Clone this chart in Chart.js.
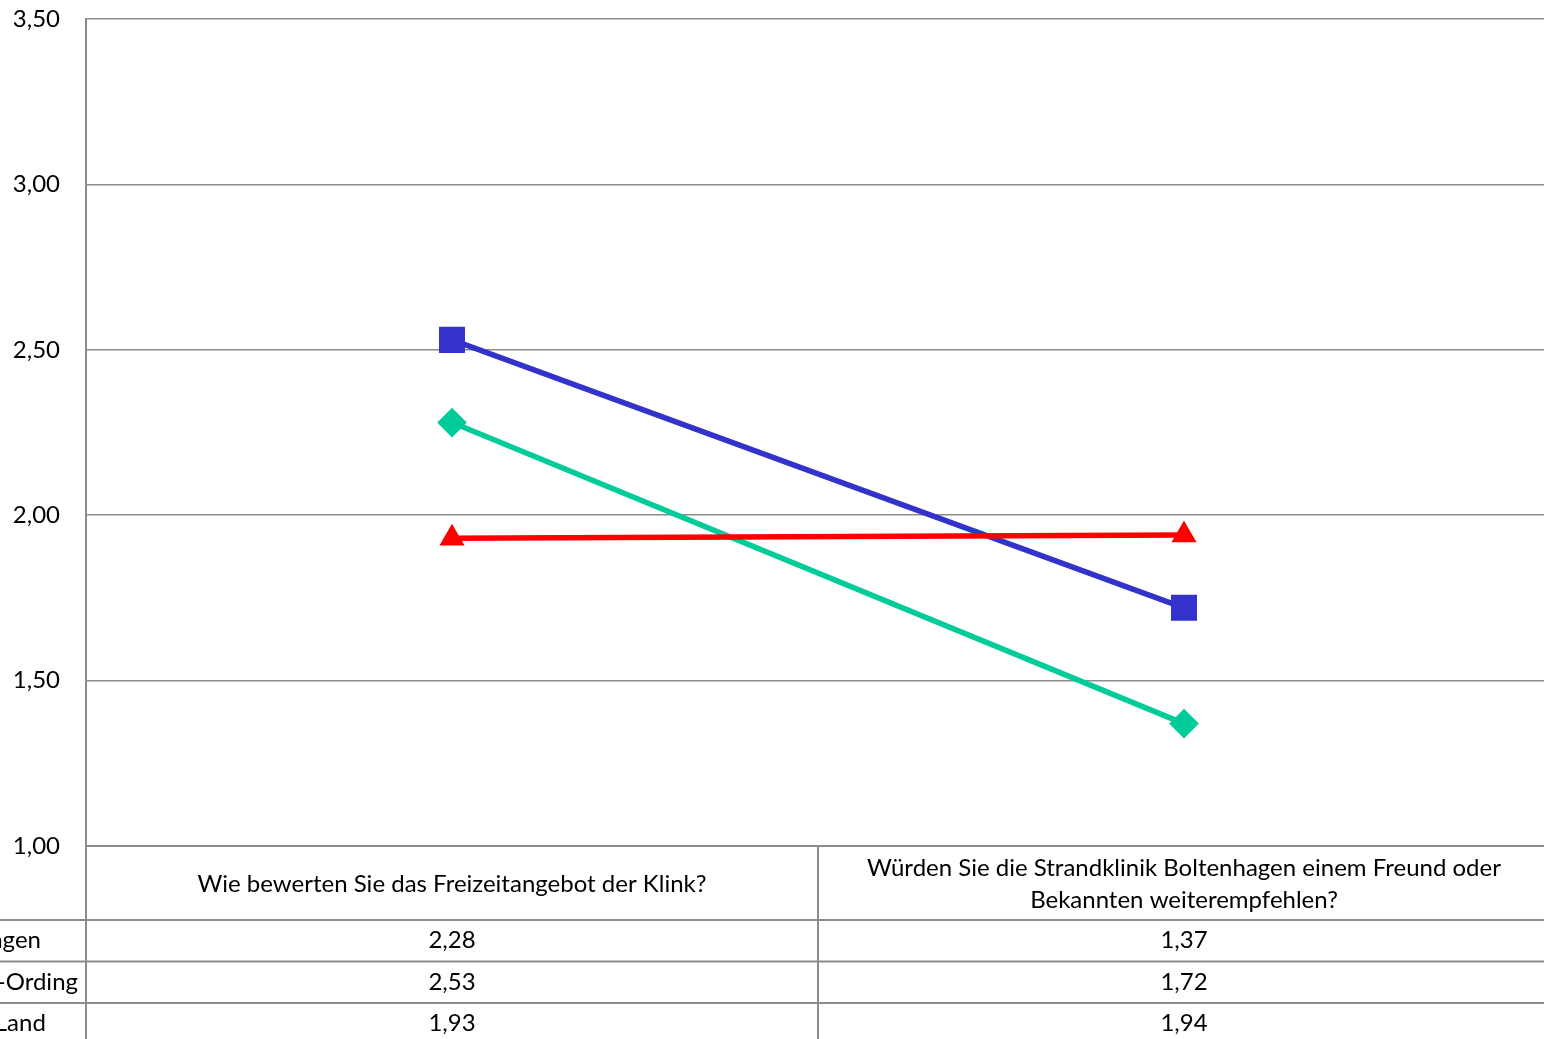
<!DOCTYPE html>
<html>
<head>
<meta charset="utf-8">
<script src="https://cdn.jsdelivr.net/npm/chart.js@4"></script>
<style>
  html, body { margin: 0; padding: 0; overflow: hidden; background: #fff; }
  #wrap { position: absolute; left: 0; top: 0; width: 1560px; height: 1050px; }
</style>
</head>
<body>
<div id="wrap"><canvas id="chart"></canvas></div>
<script>
  // Fragen (Kategorien), Zeilen der Datentabelle
  var categories = [
    ['Wie bewerten Sie das Freizeitangebot der Klink?'],
    ['Würden Sie die Strandklinik Boltenhagen einem Freund oder', 'Bekannten weiterempfehlen?']
  ];
  var seriesNames = ['Boltenhagen', 'St. Peter-Ording', 'Gesamt Land'];
  var boltenhagen = [2.28, 1.37];
  var peterOrding = [2.53, 1.72];
  var land = [1.93, 1.94];
  var yTicks = [1.0, 1.5, 2.0, 2.5, 3.0, 3.5];

  var FONT = 'Lato, "Open Sans", sans-serif';
  var gridColor = '#8c8c8c';

  function fmt(v) {
    return v.toFixed(2).replace('.', ',');
  }

  // Datentabelle unter der x-Achse zeichnen
  var dataTable = {
    id: 'dataTable',
    afterDraw: function (chart) {
      var ctx = chart.ctx;
      var area = chart.chartArea;
      var x = chart.scales.x;
      var top = area.bottom;
      var headH = 74, rowH = 41.5;
      var bottom = top + headH + rowH * 3 + 10;
      var half = (x.getPixelForValue(1) - x.getPixelForValue(0)) / 2;

      ctx.save();
      ctx.strokeStyle = gridColor;
      ctx.lineWidth = 2;
      ctx.beginPath();
      // vertikale Linien
      ctx.moveTo(area.left, top); ctx.lineTo(area.left, bottom);
      var mid = x.getPixelForValue(0) + half;
      ctx.moveTo(mid, top); ctx.lineTo(mid, bottom);
      // horizontale Linien
      for (var r = 0; r < 3; r++) {
        var y = top + headH + r * rowH;
        ctx.moveTo(0, y); ctx.lineTo(chart.width, y);
      }
      ctx.stroke();

      ctx.fillStyle = '#000';
      ctx.font = '24px ' + FONT;
      ctx.textBaseline = 'middle';
      ctx.textAlign = 'center';

      categories.forEach(function (lines, i) {
        var cx = x.getPixelForValue(i);
        var cy = top + headH / 2 + 1;
        var lh = 32;
        lines.forEach(function (t, j) {
          ctx.fillText(t, cx, cy + (j - (lines.length - 1) / 2) * lh);
        });
      });

      var rows = [boltenhagen, peterOrding, land];
      rows.forEach(function (vals, r) {
        var cy = top + headH + r * rowH + rowH / 2;
        vals.forEach(function (v, i) {
          ctx.fillText(fmt(v), x.getPixelForValue(i), cy);
        });
      });

      // Zeilenbeschriftungen (links abgeschnitten)
      ctx.textAlign = 'left';
      var x0 = 78 - ctx.measureText(seriesNames[1]).width;
      seriesNames.forEach(function (n, r) {
        var cy = top + headH + r * rowH + rowH / 2;
        ctx.fillText(n, x0, cy);
      });
      ctx.restore();
    }
  };

  new Chart(document.getElementById('chart'), {
    type: 'line',
    data: {
      labels: categories,
      datasets: [{
        label: seriesNames[0],
        data: boltenhagen,
        borderColor: '#00cc99',
        backgroundColor: '#00cc99',
        borderWidth: 5.5,
        pointStyle: 'rectRot',
        pointRadius: 11,
        pointHoverRadius: 11,
        order: 3
      }, {
        label: seriesNames[1],
        data: peterOrding,
        borderColor: '#3333cc',
        backgroundColor: '#3333cc',
        borderWidth: 5.5,
        pointStyle: 'rect',
        pointRadius: 14.5,
        pointHoverRadius: 14.5,
        order: 2
      }, {
        label: seriesNames[2],
        data: land,
        borderColor: '#ff0000',
        backgroundColor: '#ff0000',
        borderWidth: 5.5,
        pointStyle: 'triangle',
        pointRadius: 9,
        pointHoverRadius: 9,
        order: 1
      }]
    },
    options: {
      responsive: true,
      maintainAspectRatio: false,
      animation: false,
      events: [],
      layout: {
        autoPadding: false,
        padding: { top: 19, bottom: 204, right: 10, left: 0 }
      },
      plugins: {
        legend: { display: false },
        tooltip: { enabled: false }
      },
      scales: {
        x: {
          offset: true,
          ticks: { display: false },
          grid: { display: false, drawTicks: false },
          border: { display: true, color: gridColor, width: 2 }
        },
        y: {
          min: 1,
          max: 3.5,
          afterBuildTicks: function (s) {
            s.ticks = yTicks.map(function (v) { return { value: v }; });
          },
          afterFit: function (s) {
            s.width = 86;
            s.paddingTop = 0;
            s.paddingBottom = 0;
          },
          ticks: {
            padding: 26,
            color: '#000',
            font: { family: FONT, size: 24 },
            callback: function (v) { return fmt(v); }
          },
          grid: { color: gridColor, lineWidth: 1.6, drawTicks: false },
          border: { display: true, color: gridColor, width: 2 }
        }
      }
    },
    plugins: [dataTable]
  });
</script>
</body>
</html>
